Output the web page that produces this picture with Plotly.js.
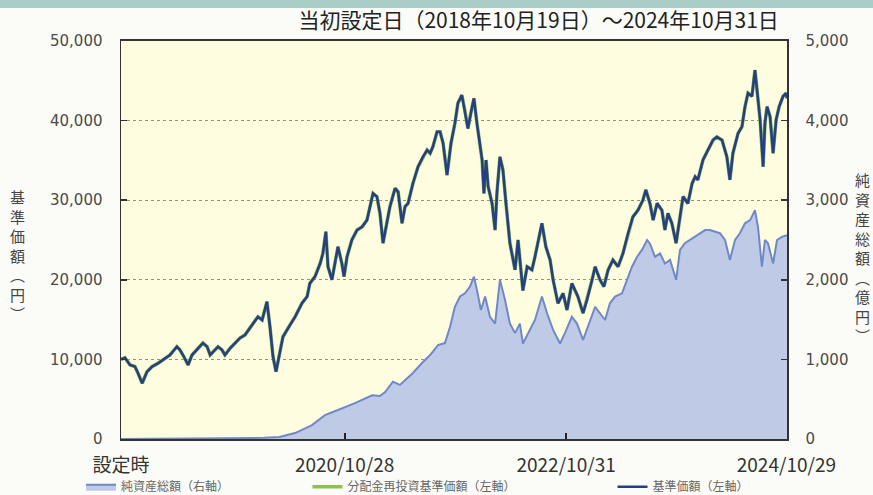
<!DOCTYPE html>
<html>
<head>
<meta charset="utf-8">
<script src="https://cdn.plot.ly/plotly-3.0.1.min.js"></script>
<style>html,body{margin:0;padding:0;background:#FBFCF7;}#chart{width:873px;height:495px;}</style>
</head>
<body>
<div id="chart"></div>
<script>
// 基準価額（円）
const priceDates = ["2018-10-19","2018-11-01","2018-11-18","2018-12-04","2018-12-14","2018-12-28","2019-01-13","2019-01-30","2019-02-18","2019-03-14","2019-03-30","2019-04-22","2019-05-02","2019-05-12","2019-05-29","2019-06-11","2019-07-01","2019-07-17","2019-07-31","2019-08-10","2019-08-20","2019-09-05","2019-09-18","2019-09-28","2019-10-15","2019-10-31","2019-11-17","2019-12-03","2019-12-20","2020-01-05","2020-01-15","2020-01-29","2020-02-14","2020-02-24","2020-03-05","2020-03-15","2020-03-22","2020-04-07","2020-04-30","2020-05-17","2020-06-09","2020-06-26","2020-07-05","2020-07-22","2020-08-08","2020-08-17","2020-08-27","2020-09-03","2020-09-16","2020-09-29","2020-10-06","2020-10-19","2020-10-26","2020-11-05","2020-11-21","2020-12-08","2020-12-25","2021-01-10","2021-01-20","2021-01-30","2021-02-12","2021-02-22","2021-03-04","2021-03-17","2021-03-27","2021-04-13","2021-04-23","2021-05-06","2021-05-16","2021-05-26","2021-06-11","2021-06-28","2021-07-14","2021-07-28","2021-08-07","2021-08-16","2021-08-30","2021-09-09","2021-09-19","2021-10-02","2021-10-15","2021-10-28","2021-11-07","2021-11-20","2021-11-30","2021-12-10","2021-12-24","2021-12-30","2022-01-09","2022-01-16","2022-01-26","2022-02-01","2022-02-08","2022-02-15","2022-02-28","2022-03-10","2022-03-16","2022-03-26","2022-04-05","2022-04-15","2022-04-28","2022-05-15","2022-05-25","2022-06-04","2022-06-10","2022-06-24","2022-07-10","2022-07-20","2022-08-06","2022-08-12","2022-08-25","2022-09-08","2022-09-18","2022-10-04","2022-10-21","2022-11-03","2022-11-19","2022-11-29","2022-12-09","2022-12-26","2023-01-08","2023-01-25","2023-02-04","2023-02-20","2023-03-05","2023-03-19","2023-04-04","2023-04-21","2023-05-07","2023-05-24","2023-06-09","2023-06-26","2023-07-12","2023-07-22","2023-08-05","2023-08-15","2023-08-28","2023-09-13","2023-09-23","2023-10-03","2023-10-16","2023-10-30","2023-11-12","2023-11-22","2023-12-08","2023-12-22","2024-01-01","2024-01-10","2024-01-27","2024-02-13","2024-02-29","2024-03-13","2024-03-30","2024-04-15","2024-04-25","2024-05-05","2024-05-22","2024-06-04","2024-06-14","2024-06-24","2024-07-07","2024-07-17","2024-07-24","2024-08-03","2024-08-13","2024-08-19","2024-08-26","2024-09-05","2024-09-15","2024-09-25","2024-10-05","2024-10-18","2024-10-28","2024-10-31"];
const priceValues = [10000,10200,9300,9100,8300,7000,8450,9100,9500,10200,10550,11600,11200,10550,9300,10550,11400,12050,11600,10550,10950,11600,11200,10550,11400,12050,12700,13050,13950,14700,15350,14950,17250,14100,10350,8450,9900,12850,14300,15350,17050,17900,19550,20400,22050,23300,26050,21650,20000,22900,24150,22050,20400,22900,25000,26250,26650,27500,29200,30850,30450,28350,24600,27100,29200,31500,31050,27100,29200,29600,32100,34200,35450,36300,35900,36700,38600,38600,37150,33150,37150,39650,42200,43200,41300,39000,41750,42800,39650,37550,35050,30850,35050,31700,29600,26250,30850,35450,33800,29600,24600,21250,25000,21000,18650,21650,21250,22900,25850,27100,24150,22500,20000,17050,18300,16200,19550,18650,17900,15800,17450,20000,21650,20000,19150,21250,22500,21650,23300,25850,27900,28750,30000,31300,29500,27500,29600,28750,26250,28350,27100,24600,27900,30450,29600,32100,32950,32550,35050,36300,37550,37950,37550,35450,32550,35900,38400,39250,41750,43450,43050,46350,43450,40100,34200,39650,41750,40500,35900,40100,41750,43050,43450,42800];
// 純資産総額（億円）
const assetDates = ["2018-10-19","2019-12-03","2020-02-05","2020-03-26","2020-05-17","2020-07-12","2020-08-24","2020-10-06","2020-12-01","2021-01-27","2021-02-22","2021-03-11","2021-04-06","2021-04-29","2021-05-22","2021-06-11","2021-07-11","2021-08-07","2021-09-02","2021-09-25","2021-10-12","2021-10-28","2021-11-14","2021-11-30","2021-12-17","2021-12-30","2022-01-09","2022-01-22","2022-02-05","2022-02-21","2022-03-10","2022-03-26","2022-04-12","2022-04-28","2022-05-15","2022-05-31","2022-06-10","2022-07-04","2022-07-20","2022-08-12","2022-08-29","2022-09-18","2022-10-11","2022-10-27","2022-11-19","2022-12-06","2022-12-26","2023-01-11","2023-02-04","2023-02-20","2023-03-09","2023-03-25","2023-04-11","2023-05-04","2023-05-20","2023-06-06","2023-06-23","2023-07-09","2023-07-26","2023-08-05","2023-08-21","2023-09-07","2023-09-23","2023-10-10","2023-10-30","2023-11-12","2023-11-28","2023-12-15","2024-01-01","2024-01-17","2024-02-03","2024-02-19","2024-03-07","2024-03-23","2024-04-09","2024-04-25","2024-05-12","2024-05-28","2024-06-14","2024-07-01","2024-07-17","2024-07-27","2024-08-09","2024-08-19","2024-08-29","2024-09-15","2024-09-28","2024-10-14","2024-10-31"];
const assetValues = [0,5,15,25,75,175,300,365,450,550,540,590,720,680,765,830,955,1055,1180,1205,1410,1660,1790,1830,1915,2040,1870,1620,1790,1535,1450,2000,1745,1450,1330,1450,1200,1370,1495,1790,1580,1370,1200,1330,1535,1450,1245,1410,1660,1580,1495,1705,1790,1830,2000,2165,2290,2375,2500,2450,2290,2330,2205,2250,2000,2375,2460,2500,2540,2585,2625,2625,2605,2585,2500,2250,2500,2585,2710,2750,2875,2665,2165,2500,2460,2205,2500,2540,2560];
// 分配金再投資基準価額（円）— 分配実績なしのため基準価額と同一
const reinvestValues = priceValues.slice();

const xTickVals = ["2018-10-19","2020-10-28","2022-10-31","2024-10-29"];
const xTickText = ["設定時","2020/10/28","2022/10/31","2024/10/29"];

const titleText = "当初設定日（2018年10月19日）～2024年10月31日";
const leftTitle = ["基","準","価","額","︵","円","︶"];
const rightTitle = ["純","資","産","総","額","︵","億","円","︶"];
const legendNames = ["純資産総額（右軸）","分配金再投資基準価額（左軸）","基準価額（左軸）"];

const numFont = {family:"DejaVu Sans, Verdana, sans-serif", size:15, color:"#4a4a4a"};
const jpFont = "Noto Sans CJK JP, sans-serif";

const traces = [
  {x:assetDates, y:assetValues, yaxis:"y2", type:"scatter", mode:"lines", name:legendNames[0],
   fill:"tozeroy", fillcolor:"#BFCAE7", line:{color:"#6F88C8", width:2}, legend:"legend", hoverinfo:"skip"},
  {x:priceDates, y:reinvestValues, type:"scatter", mode:"lines", name:legendNames[1],
   line:{color:"#8CC152", width:3.6}, legend:"legend2", hoverinfo:"skip"},
  {x:priceDates, y:priceValues, type:"scatter", mode:"lines", name:legendNames[2],
   line:{color:"#263F84", width:2.6}, legend:"legend3", hoverinfo:"skip"}
];

const legendBase = {orientation:"h", yanchor:"middle", y:-0.12, xanchor:"left",
  font:{family:"Noto Sans CJK JP, sans-serif", size:12, color:"#666"}, bgcolor:"rgba(0,0,0,0)", itemwidth:30};

const layout = {
  width:873, height:495,
  margin:{l:121, r:86, t:41, b:56, autoexpand:false},
  paper_bgcolor:"#FBFCF7", plot_bgcolor:"#FFFDE0",
  title:{text:titleText, font:{family:jpFont, size:21, color:"#222"}, x:0.617, xanchor:"center", y:0.958, yanchor:"middle"},
  xaxis:{type:"date", range:["2018-10-19","2024-10-31"], tickmode:"array", tickvals:xTickVals, ticktext:xTickText,
    ticks:"inside", ticklen:6, tickwidth:2, tickcolor:"#222", showline:true, linecolor:"#333", linewidth:2, mirror:true,
    showgrid:false, zeroline:false, tickfont:{family:jpFont, size:19, color:"#333"}, ticklabelstandoff:8},
  yaxis:{range:[0,50000], dtick:10000, tickformat:",", ticks:"inside", ticklen:6, tickwidth:1.5, tickcolor:"#333",
    showline:true, linecolor:"#333", linewidth:1.5, showgrid:true, gridcolor:"#9A8E76", griddash:"dot", gridwidth:1,
    zeroline:false, tickfont:numFont, ticklabelstandoff:14},
  yaxis2:{range:[0,5000], dtick:1000, tickformat:",", overlaying:"y", side:"right", ticks:"inside", ticklen:6, tickwidth:1.5,
    tickcolor:"#333", showline:true, linecolor:"#333", linewidth:1.5, showgrid:false, zeroline:false,
    tickfont:numFont, ticklabelstandoff:14},
  legend:Object.assign({}, legendBase, {x:-0.06}),
  legend2:Object.assign({}, legendBase, {x:0.28}),
  legend3:Object.assign({}, legendBase, {x:0.738}),
  shapes:[{type:"rect", xref:"paper", yref:"paper", x0:-0.2, x1:1.2, y0:1.083, y1:1.12, fillcolor:"#AACDC7", line:{width:0}, layer:"above"}],
  annotations:[
    {text:leftTitle.join("<br>"), xref:"paper", yref:"paper", x:(17-121)/666, y:(439-255)/398, xanchor:"center", yanchor:"middle",
     showarrow:false, font:{family:"Noto Sans CJK JP, sans-serif", size:15, color:"#444"}},
    {text:rightTitle.join("<br>"), xref:"paper", yref:"paper", x:(862-121)/666, y:(439-257)/398, xanchor:"center", yanchor:"middle",
     showarrow:false, font:{family:"Noto Sans CJK JP, sans-serif", size:15, color:"#444"}}
  ],
  showlegend:true
};

Plotly.newPlot("chart", traces, layout, {displayModeBar:false, staticPlot:true});
</script>
</body>
</html>
